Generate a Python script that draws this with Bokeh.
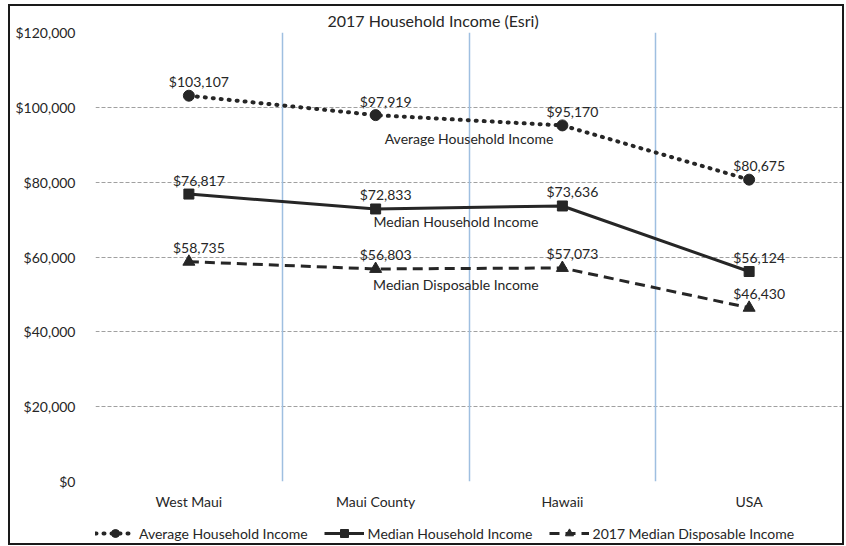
from bokeh.plotting import figure
from bokeh.layouts import column
from bokeh.models import (ColumnDataSource, FixedTicker, Grid, LabelSet, Label, Legend,
                          LegendItem, NumeralTickFormatter, Range1d, Title)
from bokeh.core.properties import value
from bokeh.embed import file_html
from bokeh.resources import INLINE

categories = ["West Maui", "Maui County", "Hawaii", "USA"]
avg_household = [103107, 97919, 95170, 80675]
median_household = [76817, 72833, 73636, 56124]
median_disposable = [58735, 56803, 57073, 46430]
y_ticks = [0, 20000, 40000, 60000, 80000, 100000, 120000]
series_names = ["Average Household Income", "Median Household Income", "2017 Median Disposable Income"]

FONT = "Lato"
DARK = "#262626"
FS = "14px"

xpos = [i + 0.5 for i in range(len(categories))]

p = figure(width=832, height=509, output_backend="svg", toolbar_location=None,
           x_range=Range1d(0, len(categories)), y_range=Range1d(0, 120000),
           min_border_left=85, min_border_right=0, min_border_top=26, min_border_bottom=34)
p.outline_line_color = None
p.background_fill_color = "white"
p.border_fill_color = "white"

title = Title(text="2017 Household Income (Esri)", align="left", offset=232, standoff=5,
              text_font=FONT, text_font_size="16px", text_font_style="normal", text_color=DARK)
p.add_layout(title, "above")

# axes
p.xaxis.ticker = FixedTicker(ticks=xpos)
p.xaxis.major_label_overrides = {x: c for x, c in zip(xpos, categories)}
p.yaxis.ticker = FixedTicker(ticks=y_ticks)
p.yaxis.formatter = NumeralTickFormatter(format="$0,0")
for ax in (p.xaxis[0], p.yaxis[0]):
    ax.axis_line_color = None
    ax.major_tick_line_color = None
    ax.minor_tick_line_color = None
    ax.major_label_text_font = FONT
    ax.major_label_text_font_size = FS
    ax.major_label_text_color = DARK
p.yaxis.major_label_standoff = 14
p.xaxis.major_label_standoff = 5

p.xgrid.visible = False
p.ygrid.grid_line_color = "#a0a0a0"
p.ygrid.grid_line_dash = "4 2"
p.ygrid.grid_line_width = 1
vgrid = Grid(dimension=0, ticker=FixedTicker(ticks=list(range(len(categories)))),
             grid_line_color="#9fbfe0", grid_line_width=1.5)
p.add_layout(vgrid)

src = ColumnDataSource(dict(
    x=xpos, avg=avg_household, med=median_household, disp=median_disposable,
    avg_l=["${:,}".format(v) for v in avg_household],
    med_l=["${:,}".format(v) for v in median_household],
    disp_l=["${:,}".format(v) for v in median_disposable],
))

COLS = ("avg", "med", "disp")
STYLE = [dict(line_width=4, line_dash="1 7", line_cap="round"),
         dict(line_width=3),
         dict(line_width=3, line_dash="10 6")]
MARK = [dict(marker="circle", size=11), dict(marker="square", size=10), dict(marker="triangle", size=12)]

for col, st, mk in zip(COLS, STYLE, MARK):
    p.line("x", col, source=src, line_color=DARK, **st)
    p.scatter("x", col, source=src, fill_color=DARK, line_color=DARK, **mk)
    p.add_layout(LabelSet(x="x", y=col, text=col + "_l", source=src, x_offset=10, y_offset=14,
                          text_align="center", text_baseline="middle", text_font=value(FONT),
                          text_font_size=value(FS), text_color=DARK))

for txt, xx, yy in [("Average Household Income", 2.0, 91700),
                    ("Median Household Income", 1.93, 69500),
                    ("Median Disposable Income", 1.93, 52650)]:
    p.add_layout(Label(x=xx, y=yy, text=txt, text_align="center", text_baseline="middle",
                       text_font=FONT, text_font_size=FS, text_color=DARK))

# legend strip (same series, outside its visible range; only the legend shows)
p2 = figure(width=832, height=28, output_backend="svg", toolbar_location=None,
            min_border=0, x_range=Range1d(0, len(categories)), y_range=Range1d(-2, -1),
            x_axis_location=None, y_axis_location=None)
p2.grid.visible = False
p2.outline_line_color = None
items = []
for name, col, st, mk in zip(series_names, COLS, STYLE, MARK):
    r1 = p2.line("x", col, source=src, line_color=DARK, **st)
    r2 = p2.scatter("x", col, source=src, fill_color=DARK, line_color=DARK, **mk)
    items.append(LegendItem(label=name, renderers=[r1, r2]))
legend = Legend(items=items, orientation="horizontal", location=(0, 0), border_line_color=None,
                background_fill_alpha=0, label_text_font=FONT, label_text_font_size=FS,
                label_text_color=DARK, glyph_width=40, spacing=16, label_standoff=4,
                padding=2, margin=0)
p2.add_layout(legend)

layout = column(p, p2, spacing=0)
layout.styles = {"border": "2px solid #1a1a1a", "margin-left": "8px", "margin-top": "4px"}

open("out.html", "w").write(file_html(layout, INLINE))
